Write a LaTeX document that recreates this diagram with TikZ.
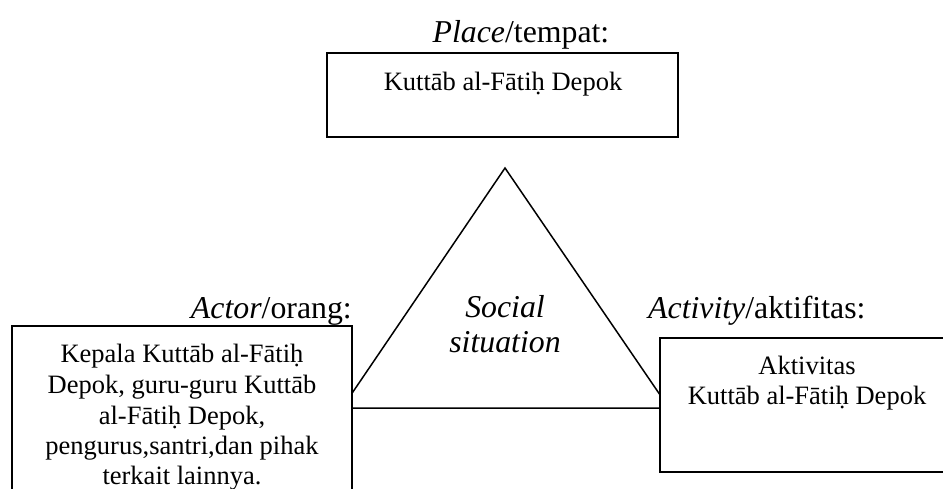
\documentclass[tikz,border=0pt]{standalone}
\usepackage{fontspec}
\setmainfont{Liberation Serif}
\begin{document}
\begin{tikzpicture}[x=1pt,y=-1pt,
  box/.style={draw, line width=1.9pt, fill=white, inner sep=0pt, outer sep=0pt},
  lbl/.style={font=\fontsize{31.8}{36}\selectfont, anchor=base, inner sep=0pt},
  txt/.style={font=\fontsize{26.5}{30.5}\selectfont, anchor=base, inner sep=0pt},
  edge/.style={line width=1.5pt, line join=miter}]
\useasboundingbox (0,0) rectangle (943,488);
\begin{scope}
\clip (0,0) rectangle (943,488);
% triangle (behind the boxes)
\coordinate (apex) at (505,168);
\coordinate (bl) at (342,408);
\coordinate (br) at (669,408);
\draw[edge] (apex) -- (bl) -- (br) -- cycle;
% boxes
\node[box, anchor=north west, minimum width=351pt, minimum height=84pt] (place) at (327,53) {};
\node[box, anchor=north west, minimum width=340pt, minimum height=200pt] (actor) at (12,326) {};
\node[box, anchor=north west, minimum width=300pt, minimum height=134pt] (activity) at (660,338) {};
% labels
\node[lbl] (placelbl) at (521,42) {\textit{Place}/tempat:};
\node[lbl, anchor=base east] (actorlbl) at (352,318) {\textit{Actor}/orang:};
\node[lbl, anchor=base west] (actlbl) at (648,318) {\textit{Activity}/aktifitas:};
\node[lbl] (soc1) at (505,317) {\textit{Social}};
\node[lbl] (soc2) at (505,352) {\textit{situation}};
% box texts
\node[txt] (placetxt) at (503,90) {Kuttāb al-Fātiḥ Depok};
\node[txt] (a1) at (182,362) {Kepala Kuttāb al-Fātiḥ};
\node[txt] (a2) at (182,393) {Depok, guru-guru Kuttāb};
\node[txt] (a3) at (182,424) {al-Fātiḥ Depok,};
\node[txt] (a4) at (182,454) {pengurus,santri,dan pihak};
\node[txt] (a5) at (182,484) {terkait lainnya.};
\node[txt] (k1) at (807,374) {Aktivitas};
\node[txt] (k2) at (807,404) {Kuttāb al-Fātiḥ Depok};
\end{scope}
\end{tikzpicture}
\end{document}
